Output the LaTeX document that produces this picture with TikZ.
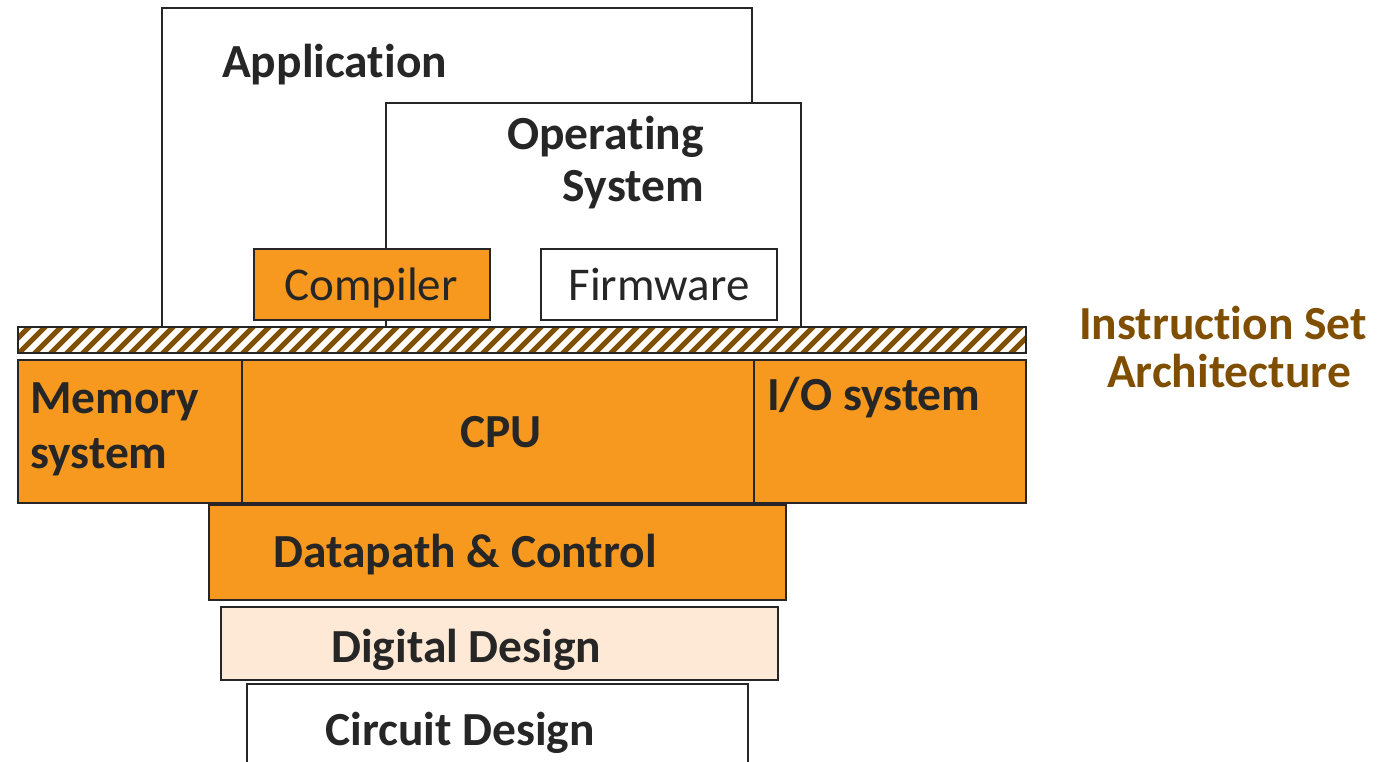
\documentclass[tikz,border=0pt]{standalone}
\usepackage{fontspec}
\setmainfont{Carlito}[Ligatures=NoCommon]
\definecolor{frame}{HTML}{262626}
\definecolor{hworange}{HTML}{F7991F}
\definecolor{peach}{HTML}{FDE9D5}
\definecolor{isabrown}{HTML}{7F4E00}
\tikzset{
  layer/.style={draw=frame, line width=2pt},
  lbl/.style={inner sep=0pt, text=frame, font=\fontsize{47.5}{52}\selectfont\bfseries},
  lblreg/.style={inner sep=0pt, text=frame, font=\fontsize{47}{52}\selectfont},
  isalbl/.style={inner sep=0pt, text=isabrown, font=\fontsize{47.5}{52}\selectfont\bfseries},
  stripe/.style={draw=isabrown, line width=5pt}
}
\begin{document}
\begin{tikzpicture}[x=1pt, y=-1pt]
\useasboundingbox (0,0) rectangle (1378,762);

% software layers
\path[layer, fill=white] (162,8) rectangle (752,327);
\path[layer, fill=white] (386,103) rectangle (801,327);
\path[layer, fill=hworange] (254,249) rectangle (490,320);
\path[layer, fill=white] (541,249) rectangle (777,320);

% instruction set boundary (hatched bar)
\begin{scope}
  \clip (18,327) rectangle (1026,353);
  \fill[white] (18,327) rectangle (1026,353);
  \foreach \x in {0,16,...,1060} {
    \draw[stripe] (\x,356) -- (\x+32,324);
  }
\end{scope}
\path[layer] (18,327) rectangle (1026,353);

% hardware layers
\path[layer, fill=hworange] (18,360) rectangle (242,503);
\path[layer, fill=hworange] (242,360) rectangle (754,503);
\path[layer, fill=hworange] (754,360) rectangle (1026,503);
\path[layer, fill=hworange] (209,505) rectangle (786,600);
\path[layer, fill=peach] (221,607) rectangle (778,680);
\path[layer, fill=white] (247,684) rectangle (748,775);

% labels
\node[lbl, anchor=base west] (app) at (222,78) {Application};
\node[lbl, anchor=base east] (os1) at (704,150) {Operating};
\node[lbl, anchor=base east] (os2) at (704,202) {System};
\node[lblreg, anchor=base] (comp) at (371,300) {Compiler};
\node[lblreg, anchor=base] (firm) at (659,300) {Firmware};
\node[lbl, anchor=base west] (mem1) at (30,413) {Memory};
\node[lbl, anchor=base west] (mem2) at (30,468) {system};
\node[lbl, anchor=base] (cpu) at (501,447) {CPU};
\node[lbl, anchor=base west] (io) at (767,410) {I/O system};
\node[lbl, anchor=base west] (dp) at (273,567) {Datapath \& Control};
\node[lbl, anchor=base west] (dd) at (331,662) {Digital Design};
\node[lbl, anchor=base west] (cd) at (325,745) {Circuit Design};
\node[isalbl, anchor=base] (isa1) at (1223,339) {Instruction Set};
\node[isalbl, anchor=base] (isa2) at (1229,387) {Architecture};
\end{tikzpicture}
\end{document}
